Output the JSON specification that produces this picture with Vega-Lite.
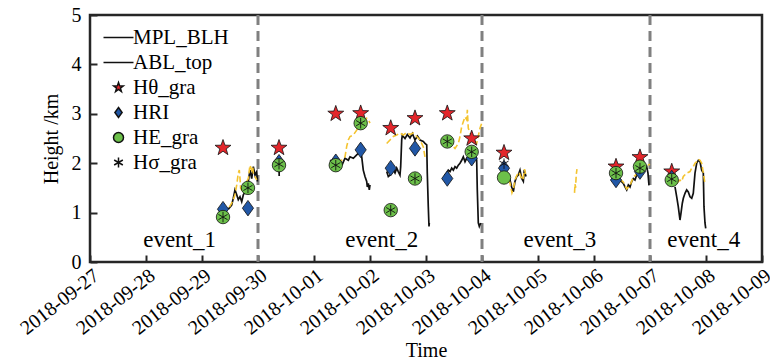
{
  "$schema": "https://vega.github.io/schema/vega-lite/v6.json",
  "width": 672,
  "height": 247,
  "autosize": {"type": "none"},
  "padding": {"left": 90, "top": 15, "right": 8, "bottom": 99},
  "config": {
    "font": "Liberation Serif",
    "view": {"stroke": "#262626", "strokeWidth": 2.5},
    "axis": {
      "domain": false, "grid": false, "tickColor": "#262626", "tickWidth": 2, "tickSize": -7,
      "labelFont": "Liberation Serif", "labelFontSize": 20, "labelColor": "#000",
      "titleFont": "Liberation Serif", "titleFontSize": 20, "titleFontWeight": "normal", "titleColor": "#000"
    },
    "legend": {"labelFont": "Liberation Serif"}
  },
  "datasets": {
    "blh": [
      {"t": "2018-09-29T11:17", "h": 1.07, "g": "b1"},
      {"t": "2018-09-29T12:43", "h": 1.15, "g": "b1"},
      {"t": "2018-09-29T13:25", "h": 1.29, "g": "b1"},
      {"t": "2018-09-29T14:08", "h": 1.46, "g": "b1"},
      {"t": "2018-09-29T14:53", "h": 1.36, "g": "b1"},
      {"t": "2018-09-29T15:33", "h": 1.26, "g": "b1"},
      {"t": "2018-09-29T16:17", "h": 1.32, "g": "b1"},
      {"t": "2018-09-29T17:01", "h": 1.22, "g": "b1"},
      {"t": "2018-09-29T17:43", "h": 1.36, "g": "b1"},
      {"t": "2018-09-29T18:26", "h": 1.42, "g": "b1"},
      {"t": "2018-09-29T19:09", "h": 1.52, "g": "b1"},
      {"t": "2018-09-29T19:51", "h": 1.63, "g": "b1"},
      {"t": "2018-09-29T20:34", "h": 1.86, "g": "b1"},
      {"t": "2018-09-29T21:18", "h": 1.69, "g": "b1"},
      {"t": "2018-09-29T22:00", "h": 1.93, "g": "b1"},
      {"t": "2018-09-29T22:43", "h": 1.76, "g": "b1"},
      {"t": "2018-09-29T23:27", "h": 1.83, "g": "b1"},
      {"t": "2018-09-29T23:45", "h": 1.63, "g": "b1"},
      {"t": "2018-09-30T09:00", "h": 2.0, "g": "b2"},
      {"t": "2018-09-30T09:05", "h": 1.74, "g": "b2"},
      {"t": "2018-10-01T06:51", "h": 2.06, "g": "b3"},
      {"t": "2018-10-01T09:00", "h": 2.0, "g": "b3"},
      {"t": "2018-10-01T11:08", "h": 2.03, "g": "b3"},
      {"t": "2018-10-01T12:10", "h": 1.98, "g": "b3"},
      {"t": "2018-10-01T13:17", "h": 2.10, "g": "b3"},
      {"t": "2018-10-01T14:43", "h": 2.06, "g": "b3"},
      {"t": "2018-10-01T15:26", "h": 2.13, "g": "b3"},
      {"t": "2018-10-01T16:51", "h": 2.10, "g": "b3"},
      {"t": "2018-10-01T18:18", "h": 2.17, "g": "b3"},
      {"t": "2018-10-01T19:43", "h": 2.23, "g": "b3"},
      {"t": "2018-10-01T20:27", "h": 2.13, "g": "b3"},
      {"t": "2018-10-01T21:07", "h": 1.86, "g": "b3"},
      {"t": "2018-10-01T21:51", "h": 1.73, "g": "b3"},
      {"t": "2018-10-01T22:35", "h": 1.63, "g": "b3"},
      {"t": "2018-10-01T22:51", "h": 1.52, "g": "b3"},
      {"t": "2018-10-01T23:17", "h": 1.59, "g": "b3"},
      {"t": "2018-10-01T23:42", "h": 1.46, "g": "b3"},
      {"t": "2018-10-02T00:00", "h": 1.56, "g": "b3"},
      {"t": "2018-10-02T07:09", "h": 1.83, "g": "b4"},
      {"t": "2018-10-02T07:51", "h": 1.73, "g": "b4"},
      {"t": "2018-10-02T08:34", "h": 1.76, "g": "b4"},
      {"t": "2018-10-02T09:18", "h": 1.80, "g": "b4"},
      {"t": "2018-10-02T09:59", "h": 1.86, "g": "b4"},
      {"t": "2018-10-02T10:43", "h": 1.80, "g": "b4"},
      {"t": "2018-10-02T11:27", "h": 1.90, "g": "b4"},
      {"t": "2018-10-02T12:07", "h": 1.83, "g": "b4"},
      {"t": "2018-10-02T12:51", "h": 1.76, "g": "b4"},
      {"t": "2018-10-02T13:09", "h": 1.93, "g": "b4"},
      {"t": "2018-10-02T13:35", "h": 2.47, "g": "b4"},
      {"t": "2018-10-02T13:51", "h": 2.57, "g": "b4"},
      {"t": "2018-10-02T14:17", "h": 2.54, "g": "b4"},
      {"t": "2018-10-02T15:00", "h": 2.50, "g": "b4"},
      {"t": "2018-10-02T16:00", "h": 2.58, "g": "b4"},
      {"t": "2018-10-02T17:09", "h": 2.51, "g": "b4"},
      {"t": "2018-10-02T18:10", "h": 2.60, "g": "b4"},
      {"t": "2018-10-02T19:17", "h": 2.47, "g": "b4"},
      {"t": "2018-10-02T20:20", "h": 2.55, "g": "b4"},
      {"t": "2018-10-02T21:26", "h": 2.47, "g": "b4"},
      {"t": "2018-10-02T22:51", "h": 2.44, "g": "b4"},
      {"t": "2018-10-02T23:34", "h": 2.40, "g": "b4"},
      {"t": "2018-10-03T00:19", "h": 2.37, "g": "b4"},
      {"t": "2018-10-03T00:33", "h": 1.80, "g": "b4"},
      {"t": "2018-10-03T00:59", "h": 1.12, "g": "b4"},
      {"t": "2018-10-03T01:17", "h": 0.72, "g": "b4"},
      {"t": "2018-10-03T01:25", "h": 0.79, "g": "b4"},
      {"t": "2018-10-03T07:25", "h": 1.66, "g": "b5"},
      {"t": "2018-10-03T08:08", "h": 1.76, "g": "b5"},
      {"t": "2018-10-03T08:53", "h": 1.80, "g": "b5"},
      {"t": "2018-10-03T09:33", "h": 1.86, "g": "b5"},
      {"t": "2018-10-03T10:17", "h": 1.83, "g": "b5"},
      {"t": "2018-10-03T11:01", "h": 1.90, "g": "b5"},
      {"t": "2018-10-03T11:43", "h": 1.86, "g": "b5"},
      {"t": "2018-10-03T12:26", "h": 1.93, "g": "b5"},
      {"t": "2018-10-03T13:09", "h": 1.90, "g": "b5"},
      {"t": "2018-10-03T13:51", "h": 1.96, "g": "b5"},
      {"t": "2018-10-03T14:34", "h": 2.00, "g": "b5"},
      {"t": "2018-10-03T15:18", "h": 2.06, "g": "b5"},
      {"t": "2018-10-03T15:59", "h": 2.13, "g": "b5"},
      {"t": "2018-10-03T16:43", "h": 2.03, "g": "b5"},
      {"t": "2018-10-03T17:27", "h": 2.10, "g": "b5"},
      {"t": "2018-10-03T18:07", "h": 2.13, "g": "b5"},
      {"t": "2018-10-03T18:51", "h": 2.20, "g": "b5"},
      {"t": "2018-10-03T19:35", "h": 2.23, "g": "b5"},
      {"t": "2018-10-03T20:17", "h": 2.17, "g": "b5"},
      {"t": "2018-10-03T21:00", "h": 2.27, "g": "b5"},
      {"t": "2018-10-03T21:43", "h": 2.06, "g": "b5"},
      {"t": "2018-10-03T21:59", "h": 1.46, "g": "b5"},
      {"t": "2018-10-03T22:25", "h": 0.79, "g": "b5"},
      {"t": "2018-10-03T22:51", "h": 0.72, "g": "b5"},
      {"t": "2018-10-03T23:27", "h": 0.79, "g": "b5"},
      {"t": "2018-10-04T09:52", "h": 1.85, "g": "b6"},
      {"t": "2018-10-04T10:35", "h": 1.80, "g": "b6"},
      {"t": "2018-10-04T12:00", "h": 1.66, "g": "b6"},
      {"t": "2018-10-04T12:43", "h": 1.52, "g": "b6"},
      {"t": "2018-10-04T13:25", "h": 1.42, "g": "b6"},
      {"t": "2018-10-04T14:08", "h": 1.63, "g": "b6"},
      {"t": "2018-10-04T14:53", "h": 1.73, "g": "b6"},
      {"t": "2018-10-04T15:33", "h": 1.76, "g": "b6"},
      {"t": "2018-10-04T16:17", "h": 1.86, "g": "b6"},
      {"t": "2018-10-04T17:01", "h": 1.69, "g": "b6"},
      {"t": "2018-10-04T17:43", "h": 1.63, "g": "b6"},
      {"t": "2018-10-04T18:07", "h": 1.86, "g": "b6"},
      {"t": "2018-10-04T18:51", "h": 1.73, "g": "b6"},
      {"t": "2018-10-06T10:17", "h": 1.70, "g": "b7"},
      {"t": "2018-10-06T11:08", "h": 1.66, "g": "b7"},
      {"t": "2018-10-06T12:33", "h": 1.59, "g": "b7"},
      {"t": "2018-10-06T13:17", "h": 1.52, "g": "b7"},
      {"t": "2018-10-06T14:01", "h": 1.46, "g": "b7"},
      {"t": "2018-10-06T14:43", "h": 1.56, "g": "b7"},
      {"t": "2018-10-06T15:26", "h": 1.52, "g": "b7"},
      {"t": "2018-10-06T16:09", "h": 1.63, "g": "b7"},
      {"t": "2018-10-06T16:51", "h": 1.69, "g": "b7"},
      {"t": "2018-10-06T17:34", "h": 1.66, "g": "b7"},
      {"t": "2018-10-06T18:18", "h": 1.76, "g": "b7"},
      {"t": "2018-10-06T19:43", "h": 1.83, "g": "b7"},
      {"t": "2018-10-06T21:07", "h": 1.86, "g": "b7"},
      {"t": "2018-10-06T22:35", "h": 1.93, "g": "b7"},
      {"t": "2018-10-06T23:08", "h": 1.80, "g": "b7"},
      {"t": "2018-10-06T23:34", "h": 1.55, "g": "b7"},
      {"t": "2018-10-07T10:43", "h": 1.52, "g": "b8"},
      {"t": "2018-10-07T11:27", "h": 1.32, "g": "b8"},
      {"t": "2018-10-07T12:07", "h": 1.12, "g": "b8"},
      {"t": "2018-10-07T12:51", "h": 0.85, "g": "b8"},
      {"t": "2018-10-07T13:17", "h": 0.99, "g": "b8"},
      {"t": "2018-10-07T13:51", "h": 1.19, "g": "b8"},
      {"t": "2018-10-07T14:17", "h": 1.29, "g": "b8"},
      {"t": "2018-10-07T15:00", "h": 1.39, "g": "b8"},
      {"t": "2018-10-07T15:43", "h": 1.46, "g": "b8"},
      {"t": "2018-10-07T16:25", "h": 1.42, "g": "b8"},
      {"t": "2018-10-07T17:09", "h": 1.32, "g": "b8"},
      {"t": "2018-10-07T17:53", "h": 1.29, "g": "b8"},
      {"t": "2018-10-07T18:33", "h": 1.39, "g": "b8"},
      {"t": "2018-10-07T19:17", "h": 1.80, "g": "b8"},
      {"t": "2018-10-07T20:01", "h": 2.00, "g": "b8"},
      {"t": "2018-10-07T20:43", "h": 2.06, "g": "b8"},
      {"t": "2018-10-07T21:26", "h": 2.03, "g": "b8"},
      {"t": "2018-10-07T22:09", "h": 1.86, "g": "b8"},
      {"t": "2018-10-07T22:51", "h": 1.80, "g": "b8"},
      {"t": "2018-10-07T23:08", "h": 1.12, "g": "b8"},
      {"t": "2018-10-07T23:34", "h": 0.79, "g": "b8"},
      {"t": "2018-10-07T23:53", "h": 0.68, "g": "b8"}
    ],
    "abl": [
      {"t": "2018-09-29T11:43", "h": 1.11, "g": "y1"},
      {"t": "2018-09-29T12:43", "h": 1.19, "g": "y1"},
      {"t": "2018-09-29T13:25", "h": 1.26, "g": "y1"},
      {"t": "2018-09-29T14:08", "h": 1.36, "g": "y1"},
      {"t": "2018-09-29T14:53", "h": 1.56, "g": "y1"},
      {"t": "2018-09-29T15:33", "h": 1.80, "g": "y1"},
      {"t": "2018-09-29T15:59", "h": 1.86, "g": "y1"},
      {"t": "2018-09-29T16:17", "h": 1.69, "g": "y1"},
      {"t": "2018-09-29T16:34", "h": 1.49, "g": "y1"},
      {"t": "2018-09-29T17:43", "h": 1.42, "g": "y1"},
      {"t": "2018-09-29T18:26", "h": 1.52, "g": "y1"},
      {"t": "2018-09-29T19:09", "h": 1.63, "g": "y1"},
      {"t": "2018-09-29T19:51", "h": 1.69, "g": "y1"},
      {"t": "2018-09-29T20:17", "h": 1.86, "g": "y1"},
      {"t": "2018-09-29T20:34", "h": 1.96, "g": "y1"},
      {"t": "2018-09-29T21:18", "h": 1.86, "g": "y1"},
      {"t": "2018-09-29T21:43", "h": 1.93, "g": "y1"},
      {"t": "2018-09-29T22:00", "h": 1.80, "g": "y1"},
      {"t": "2018-09-29T22:43", "h": 1.73, "g": "y1"},
      {"t": "2018-09-29T23:27", "h": 1.66, "g": "y1"},
      {"t": "2018-09-30T07:17", "h": 2.02, "g": "y2"},
      {"t": "2018-09-30T07:42", "h": 1.85, "g": "y2"},
      {"t": "2018-10-01T09:43", "h": 2.03, "g": "y3"},
      {"t": "2018-10-01T11:51", "h": 2.06, "g": "y3"},
      {"t": "2018-10-01T13:17", "h": 2.13, "g": "y3"},
      {"t": "2018-10-01T14:01", "h": 2.34, "g": "y3"},
      {"t": "2018-10-01T14:43", "h": 2.47, "g": "y3"},
      {"t": "2018-10-01T15:26", "h": 2.54, "g": "y3"},
      {"t": "2018-10-01T16:51", "h": 2.57, "g": "y3"},
      {"t": "2018-10-01T18:18", "h": 2.67, "g": "y3"},
      {"t": "2018-10-01T19:43", "h": 2.81, "g": "y3"},
      {"t": "2018-10-01T21:07", "h": 2.88, "g": "y3"},
      {"t": "2018-10-01T21:51", "h": 2.84, "g": "y3"},
      {"t": "2018-10-01T22:35", "h": 2.91, "g": "y3"},
      {"t": "2018-10-01T23:17", "h": 2.88, "g": "y3"},
      {"t": "2018-10-02T00:00", "h": 2.81, "g": "y3"},
      {"t": "2018-10-02T07:09", "h": 2.40, "g": "y4"},
      {"t": "2018-10-02T08:34", "h": 2.47, "g": "y4"},
      {"t": "2018-10-02T09:59", "h": 2.54, "g": "y4"},
      {"t": "2018-10-02T11:27", "h": 2.57, "g": "y4"},
      {"t": "2018-10-02T12:51", "h": 2.61, "g": "y4"},
      {"t": "2018-10-02T14:17", "h": 2.57, "g": "y4"},
      {"t": "2018-10-02T15:43", "h": 2.62, "g": "y4"},
      {"t": "2018-10-02T17:09", "h": 2.58, "g": "y4"},
      {"t": "2018-10-02T18:33", "h": 2.61, "g": "y4"},
      {"t": "2018-10-02T20:01", "h": 2.54, "g": "y4"},
      {"t": "2018-10-02T21:26", "h": 2.47, "g": "y4"},
      {"t": "2018-10-02T22:51", "h": 2.33, "g": "y4"},
      {"t": "2018-10-02T23:34", "h": 2.13, "g": "y4"},
      {"t": "2018-10-03T09:33", "h": 2.47, "g": "y5"},
      {"t": "2018-10-03T11:01", "h": 2.37, "g": "y5"},
      {"t": "2018-10-03T12:26", "h": 2.30, "g": "y5"},
      {"t": "2018-10-03T13:51", "h": 2.40, "g": "y5"},
      {"t": "2018-10-03T14:34", "h": 2.54, "g": "y5"},
      {"t": "2018-10-03T15:18", "h": 2.74, "g": "y5"},
      {"t": "2018-10-03T15:59", "h": 2.84, "g": "y5"},
      {"t": "2018-10-03T16:43", "h": 2.94, "g": "y5"},
      {"t": "2018-10-03T17:27", "h": 2.88, "g": "y5"},
      {"t": "2018-10-03T17:43", "h": 3.08, "g": "y5"},
      {"t": "2018-10-03T18:07", "h": 2.71, "g": "y5"},
      {"t": "2018-10-03T18:51", "h": 2.61, "g": "y5"},
      {"t": "2018-10-03T20:17", "h": 2.47, "g": "y5"},
      {"t": "2018-10-03T21:43", "h": 2.40, "g": "y5"},
      {"t": "2018-10-03T23:08", "h": 2.71, "g": "y5"},
      {"t": "2018-10-03T23:53", "h": 2.81, "g": "y5"},
      {"t": "2018-10-04T09:26", "h": 2.00, "g": "y6"},
      {"t": "2018-10-04T10:17", "h": 1.75, "g": "y6"},
      {"t": "2018-10-04T11:08", "h": 1.70, "g": "y6"},
      {"t": "2018-10-04T12:00", "h": 1.60, "g": "y6"},
      {"t": "2018-10-04T12:51", "h": 1.40, "g": "y6"},
      {"t": "2018-10-04T13:30", "h": 1.48, "g": "y6"},
      {"t": "2018-10-04T14:08", "h": 1.66, "g": "y6"},
      {"t": "2018-10-04T15:00", "h": 1.76, "g": "y6"},
      {"t": "2018-10-04T15:52", "h": 1.82, "g": "y6"},
      {"t": "2018-10-04T16:43", "h": 1.72, "g": "y6"},
      {"t": "2018-10-04T17:34", "h": 1.66, "g": "y6"},
      {"t": "2018-10-04T18:13", "h": 1.88, "g": "y6"},
      {"t": "2018-10-04T18:51", "h": 1.75, "g": "y6"},
      {"t": "2018-10-05T15:39", "h": 1.40, "g": "y7"},
      {"t": "2018-10-05T15:52", "h": 1.58, "g": "y7"},
      {"t": "2018-10-05T16:05", "h": 1.50, "g": "y7"},
      {"t": "2018-10-05T16:25", "h": 1.78, "g": "y7"},
      {"t": "2018-10-05T16:42", "h": 1.88, "g": "y7"},
      {"t": "2018-10-06T11:08", "h": 1.68, "g": "y8"},
      {"t": "2018-10-06T12:33", "h": 1.62, "g": "y8"},
      {"t": "2018-10-06T14:01", "h": 1.48, "g": "y8"},
      {"t": "2018-10-06T15:26", "h": 1.55, "g": "y8"},
      {"t": "2018-10-06T16:51", "h": 1.72, "g": "y8"},
      {"t": "2018-10-06T18:18", "h": 1.78, "g": "y8"},
      {"t": "2018-10-06T19:43", "h": 1.85, "g": "y8"},
      {"t": "2018-10-06T21:07", "h": 1.88, "g": "y8"},
      {"t": "2018-10-06T22:35", "h": 1.95, "g": "y8"},
      {"t": "2018-10-07T00:00", "h": 1.98, "g": "y8"},
      {"t": "2018-10-07T11:27", "h": 1.59, "g": "y9"},
      {"t": "2018-10-07T12:07", "h": 1.63, "g": "y9"},
      {"t": "2018-10-07T12:51", "h": 1.66, "g": "y9"},
      {"t": "2018-10-07T13:35", "h": 1.63, "g": "y9"},
      {"t": "2018-10-07T14:17", "h": 1.73, "g": "y9"},
      {"t": "2018-10-07T15:43", "h": 1.80, "g": "y9"},
      {"t": "2018-10-07T17:09", "h": 1.83, "g": "y9"},
      {"t": "2018-10-07T17:53", "h": 1.90, "g": "y9"},
      {"t": "2018-10-07T18:33", "h": 1.93, "g": "y9"},
      {"t": "2018-10-07T19:17", "h": 2.00, "g": "y9"},
      {"t": "2018-10-07T20:01", "h": 2.03, "g": "y9"},
      {"t": "2018-10-07T20:43", "h": 2.08, "g": "y9"},
      {"t": "2018-10-07T21:26", "h": 2.06, "g": "y9"},
      {"t": "2018-10-07T22:09", "h": 2.00, "g": "y9"},
      {"t": "2018-10-07T22:51", "h": 1.80, "g": "y9"},
      {"t": "2018-10-07T23:34", "h": 1.59, "g": "y9"}
    ],
    "star": [
      {"t": "2018-09-29T09:00", "h": 2.31, "s": "Hθ_gra"},
      {"t": "2018-09-30T09:00", "h": 2.31, "s": "Hθ_gra"},
      {"t": "2018-10-01T09:20", "h": 3.00, "s": "Hθ_gra"},
      {"t": "2018-10-01T20:00", "h": 3.01, "s": "Hθ_gra"},
      {"t": "2018-10-02T08:53", "h": 2.71, "s": "Hθ_gra"},
      {"t": "2018-10-02T19:17", "h": 2.91, "s": "Hθ_gra"},
      {"t": "2018-10-03T09:07", "h": 3.01, "s": "Hθ_gra"},
      {"t": "2018-10-03T19:35", "h": 2.50, "s": "Hθ_gra"},
      {"t": "2018-10-04T09:26", "h": 2.21, "s": "Hθ_gra"},
      {"t": "2018-10-06T09:26", "h": 1.93, "s": "Hθ_gra"},
      {"t": "2018-10-06T19:42", "h": 2.12, "s": "Hθ_gra"},
      {"t": "2018-10-07T09:19", "h": 1.83, "s": "Hθ_gra"}
    ],
    "ri": [
      {"t": "2018-09-29T09:00", "h": 1.07, "s": "HRI"},
      {"t": "2018-09-29T19:42", "h": 1.09, "s": "HRI"},
      {"t": "2018-09-30T09:00", "h": 2.02, "s": "HRI"},
      {"t": "2018-10-01T09:20", "h": 2.03, "s": "HRI"},
      {"t": "2018-10-01T20:00", "h": 2.27, "s": "HRI"},
      {"t": "2018-10-02T08:53", "h": 1.90, "s": "HRI"},
      {"t": "2018-10-02T19:17", "h": 2.30, "s": "HRI"},
      {"t": "2018-10-03T09:07", "h": 1.69, "s": "HRI"},
      {"t": "2018-10-03T19:35", "h": 2.10, "s": "HRI"},
      {"t": "2018-10-04T09:26", "h": 1.90, "s": "HRI"},
      {"t": "2018-10-06T09:26", "h": 1.66, "s": "HRI"},
      {"t": "2018-10-06T19:42", "h": 1.83, "s": "HRI"},
      {"t": "2018-10-07T09:19", "h": 1.70, "s": "HRI"}
    ],
    "egra": [
      {"t": "2018-09-29T09:00", "h": 0.91, "s": "HE_gra"},
      {"t": "2018-09-29T19:42", "h": 1.50, "s": "HE_gra"},
      {"t": "2018-09-30T09:00", "h": 1.96, "s": "HE_gra"},
      {"t": "2018-10-01T09:20", "h": 1.96, "s": "HE_gra"},
      {"t": "2018-10-01T20:00", "h": 2.81, "s": "HE_gra"},
      {"t": "2018-10-02T08:53", "h": 1.05, "s": "HE_gra"},
      {"t": "2018-10-02T19:17", "h": 1.69, "s": "HE_gra"},
      {"t": "2018-10-03T09:07", "h": 2.44, "s": "HE_gra"},
      {"t": "2018-10-03T19:35", "h": 2.23, "s": "HE_gra"},
      {"t": "2018-10-04T09:26", "h": 1.71, "s": "HE_gra"},
      {"t": "2018-10-06T09:26", "h": 1.80, "s": "HE_gra"},
      {"t": "2018-10-06T19:42", "h": 1.93, "s": "HE_gra"},
      {"t": "2018-10-07T09:19", "h": 1.66, "s": "HE_gra"}
    ],
    "sgra": [
      {"t": "2018-09-29T09:00", "h": 0.91, "s": "Hσ_gra"},
      {"t": "2018-09-29T19:42", "h": 1.50, "s": "Hσ_gra"},
      {"t": "2018-09-30T09:00", "h": 1.98, "s": "Hσ_gra"},
      {"t": "2018-10-01T09:20", "h": 1.96, "s": "Hσ_gra"},
      {"t": "2018-10-01T20:00", "h": 2.81, "s": "Hσ_gra"},
      {"t": "2018-10-02T08:53", "h": 1.05, "s": "Hσ_gra"},
      {"t": "2018-10-02T19:17", "h": 1.69, "s": "Hσ_gra"},
      {"t": "2018-10-03T09:07", "h": 2.44, "s": "Hσ_gra"},
      {"t": "2018-10-03T19:35", "h": 2.23, "s": "Hσ_gra"},
      {"t": "2018-10-04T09:26", "h": 1.99, "s": "Hσ_gra"},
      {"t": "2018-10-06T09:26", "h": 1.80, "s": "Hσ_gra"},
      {"t": "2018-10-06T19:42", "h": 1.90, "s": "Hσ_gra"},
      {"t": "2018-10-07T09:19", "h": 1.68, "s": "Hσ_gra"}
    ],
    "events": [
      {"t": "2018-09-28T14:24", "h": 0.45, "label": "event_1"},
      {"t": "2018-10-02T05:02", "h": 0.45, "label": "event_2"},
      {"t": "2018-10-05T09:22", "h": 0.45, "label": "event_3"},
      {"t": "2018-10-07T23:02", "h": 0.45, "label": "event_4"}
    ],
    "dividers": [
      {"t": "2018-09-30T00:00"},
      {"t": "2018-10-04T00:00"},
      {"t": "2018-10-07T00:00"}
    ]
  },
  "layer": [
    {
      "data": {"name": "dividers"},
      "mark": {"type": "rule", "color": "#808080", "strokeWidth": 3, "strokeDash": [10, 6]},
      "encoding": {
        "x": {
          "field": "t", "type": "temporal", "title": "Time",
          "scale": {"domain": ["2018-09-27T00:00", "2018-10-09T00:00"]},
          "axis": {"format": "%Y-%m-%d", "tickCount": {"interval": "day", "step": 1}, "labelAngle": -38, "labelAlign": "right", "labelBaseline": "top", "labelPadding": 10, "titlePadding": 2, "labelFlush": false, "labelOverlap": false}
        }
      }
    },
    {
      "data": {"name": "blh"},
      "mark": {"type": "line", "strokeWidth": 1.7, "color": "#111111"},
      "encoding": {
        "x": {"field": "t", "type": "temporal"},
        "y": {
          "field": "h", "type": "quantitative", "title": "Height /km",
          "scale": {"domain": [0, 5], "nice": false},
          "axis": {"values": [0, 1, 2, 3, 4, 5], "labelPadding": 16, "titlePadding": 10}
        },
        "detail": {"field": "g", "type": "nominal"}
      }
    },
    {
      "data": {"name": "abl"},
      "mark": {"type": "line", "strokeWidth": 1.6, "color": "#f4c430", "strokeDash": [6, 3]},
      "encoding": {
        "x": {"field": "t", "type": "temporal"},
        "y": {"field": "h", "type": "quantitative"},
        "detail": {"field": "g", "type": "nominal"}
      }
    },
    {
      "data": {"name": "star"},
      "mark": {"type": "point", "filled": true, "size": 280, "stroke": "#111111", "strokeWidth": 0.8, "opacity": 1},
      "encoding": {
        "x": {"field": "t", "type": "temporal"},
        "y": {"field": "h", "type": "quantitative"},
        "fill": {"field": "s", "type": "nominal", "legend": null, "scale": {"domain": ["MPL_BLH", "ABL_top", "Hθ_gra", "HRI", "HE_gra", "Hσ_gra"], "range": ["transparent", "transparent", "#e3262b", "#2157a6", "#6cc04a", "#111111"]}},
        "shape": {
          "field": "s", "type": "nominal",
          "scale": {"domain": ["MPL_BLH", "ABL_top", "Hθ_gra", "HRI", "HE_gra", "Hσ_gra"], "range": ["M-3,0L3,0", "M-3,0L3,0", "M0,-1L0.235,-0.324L0.951,-0.309L0.38,0.124L0.588,0.809L0,0.4L-0.588,0.809L-0.38,0.124L-0.951,-0.309L-0.235,-0.324Z", "M0,-1L0.72,0L0,1L-0.72,0Z", "circle", "M0,-1L0,1M-0.87,-0.5L0.87,0.5M-0.87,0.5L0.87,-0.5"]},
          "legend": {
            "title": null, "orient": "none", "legendX": 18, "legendY": 12, "padding": 0,
            "labelFont": "Liberation Serif", "labelFontSize": 21, "labelColor": "#000", "labelOffset": 4, "rowPadding": 3,
            "encode": {"symbols": {"update": {
              "size": {"signal": "datum.value == 'MPL_BLH' || datum.value == 'ABL_top' ? 100 : (datum.value == 'Hσ_gra' ? 110 : 210)"},
              "fill": {"signal": "datum.value == 'Hθ_gra' ? '#e3262b' : (datum.value == 'HRI' ? '#2157a6' : (datum.value == 'HE_gra' ? '#6cc04a' : 'transparent'))"},
              "stroke": {"signal": "datum.value == 'ABL_top' ? '#f4c430' : '#111111'"},
              "strokeDash": {"signal": "datum.value == 'ABL_top' ? [6, 3] : [1, 0]"},
              "strokeWidth": {"signal": "datum.value == 'MPL_BLH' || datum.value == 'ABL_top' ? 1.8 : 0.8"},
              "opacity": {"value": 1}
            }}}
          }
        }
      }
    },
    {
      "data": {"name": "ri"},
      "mark": {"type": "point", "filled": true, "size": 240, "stroke": "#111111", "strokeWidth": 0.8, "opacity": 1},
      "encoding": {
        "x": {"field": "t", "type": "temporal"},
        "y": {"field": "h", "type": "quantitative"},
        "fill": {"field": "s", "type": "nominal", "legend": null},
        "shape": {"field": "s", "type": "nominal"}
      }
    },
    {
      "data": {"name": "egra"},
      "mark": {"type": "point", "filled": true, "size": 180, "stroke": "#111111", "strokeWidth": 0.8, "opacity": 1},
      "encoding": {
        "x": {"field": "t", "type": "temporal"},
        "y": {"field": "h", "type": "quantitative"},
        "fill": {"field": "s", "type": "nominal", "legend": null},
        "shape": {"field": "s", "type": "nominal"}
      }
    },
    {
      "data": {"name": "sgra"},
      "mark": {"type": "point", "filled": true, "size": 110, "stroke": "#111111", "strokeWidth": 0.9, "opacity": 1},
      "encoding": {
        "x": {"field": "t", "type": "temporal"},
        "y": {"field": "h", "type": "quantitative"},
        "fill": {"field": "s", "type": "nominal", "legend": null},
        "shape": {"field": "s", "type": "nominal"}
      }
    },
    {
      "data": {"name": "events"},
      "mark": {"type": "text", "font": "Liberation Serif", "fontSize": 23, "color": "#000"},
      "encoding": {
        "x": {"field": "t", "type": "temporal"},
        "y": {"field": "h", "type": "quantitative"},
        "text": {"field": "label"}
      }
    }
  ]
}
